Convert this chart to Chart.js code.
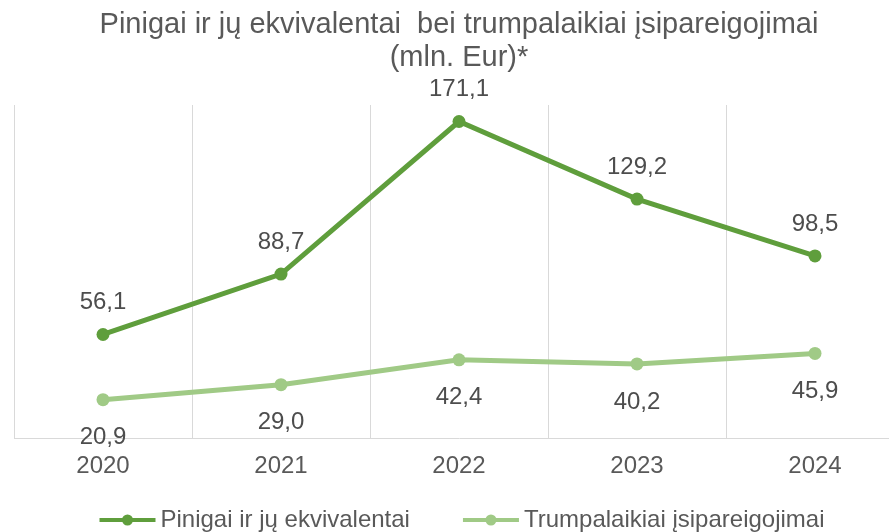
<!DOCTYPE html>
<html>
<head>
<meta charset="utf-8">
<script src="https://cdn.jsdelivr.net/npm/chart.js@4.4.1/dist/chart.umd.min.js"></script>
<style>
  html, body { margin: 0; padding: 0; background: #fff; overflow: hidden; }
  #wrap { width: 918px; height: 532px; }
</style>
</head>
<body>
<div id="wrap"><canvas id="chart" width="918" height="532"></canvas></div>
<script>
// Data
const years = ['2020', '2021', '2022', '2023', '2024'];
const cashValues = [56.1, 88.7, 171.1, 129.2, 98.5];
const liabilityValues = [20.9, 29.0, 42.4, 40.2, 45.9];
const seriesNames = ['Pinigai ir jų ekvivalentai', 'Trumpalaikiai įsipareigojimai'];
const titleLines = ['Pinigai ir jų ekvivalentai  bei trumpalaikiai įsipareigojimai', '(mln. Eur)*'];

const darkGreen = '#5f9e3c';
const lightGreen = '#a0ca86';
const textGrey = '#595959';
const fontFamily = '"Liberation Sans", Arial, sans-serif';

// value labels + legend drawn after the chart
const labelsPlugin = {
    id: 'labelsPlugin',
    afterDraw(chart) {
        const ctx = chart.ctx;
        ctx.save();
        ctx.font = '24px ' + fontFamily;
        ctx.fillStyle = '#4d4d4d';
        ctx.textAlign = 'center';
        ctx.textBaseline = 'middle';
        chart.data.datasets.forEach((ds, di) => {
            const meta = chart.getDatasetMeta(di);
            meta.data.forEach((pt, i) => {
                const txt = ds.data[i].toFixed(1).replace('.', ',');
                const dy = di === 0 ? -32 : 38;
                ctx.fillText(txt, pt.x, pt.y + dy);
            });
        });

        // legend
        const sampleW = 56, textGap = 5, itemGap = 53, legendY = 520;
        const colors = [darkGreen, lightGreen];
        const widths = seriesNames.map(n => ctx.measureText(n).width);
        const total = 2 * (sampleW + textGap) + widths[0] + widths[1] + itemGap;
        let x = chart.width / 2 - total / 2 + 3;
        ctx.textAlign = 'left';
        seriesNames.forEach((name, i) => {
            ctx.strokeStyle = colors[i];
            ctx.lineWidth = 4;
            ctx.beginPath();
            ctx.moveTo(x, legendY);
            ctx.lineTo(x + sampleW, legendY);
            ctx.stroke();
            ctx.fillStyle = colors[i];
            ctx.beginPath();
            ctx.arc(x + sampleW / 2, legendY, 5.5, 0, Math.PI * 2);
            ctx.fill();
            ctx.fillStyle = textGrey;
            ctx.fillText(name, x + sampleW + textGap, legendY);
            x += sampleW + textGap + widths[i] + itemGap;
        });
        ctx.restore();
    }
};

new Chart(document.getElementById('chart'), {
    type: 'line',
    data: {
        labels: years,
        datasets: [{
            label: seriesNames[0],
            data: cashValues,
            borderColor: darkGreen,
            backgroundColor: darkGreen,
            borderWidth: 5,
            pointRadius: 6.5,
            pointBorderWidth: 0,
            tension: 0
        }, {
            label: seriesNames[1],
            data: liabilityValues,
            borderColor: lightGreen,
            backgroundColor: lightGreen,
            borderWidth: 5,
            pointRadius: 6.5,
            pointBorderWidth: 0,
            tension: 0
        }]
    },
    options: {
        responsive: false,
        animation: false,
        devicePixelRatio: 1,
        layout: { padding: { left: 14, right: 14, top: 0, bottom: 37.6 } },
        plugins: {
            legend: { display: false },
            tooltip: { enabled: false },
            title: {
                display: true,
                text: titleLines,
                color: textGrey,
                font: { family: fontFamily, size: 29, weight: 'normal', lineHeight: '33px' },
                padding: { top: 8, bottom: 31 }
            }
        },
        scales: {
            x: {
                offset: true,
                grid: { offset: true, color: '#d9d9d9', lineWidth: 1, drawTicks: false },
                border: { display: true, color: '#d9d9d9', width: 1 },
                ticks: { color: textGrey, padding: 13.6, font: { family: fontFamily, size: 24 } }
            },
            y: {
                display: false,
                min: 0,
                max: 180
            }
        }
    },
    plugins: [labelsPlugin]
});
</script>
</body>
</html>
